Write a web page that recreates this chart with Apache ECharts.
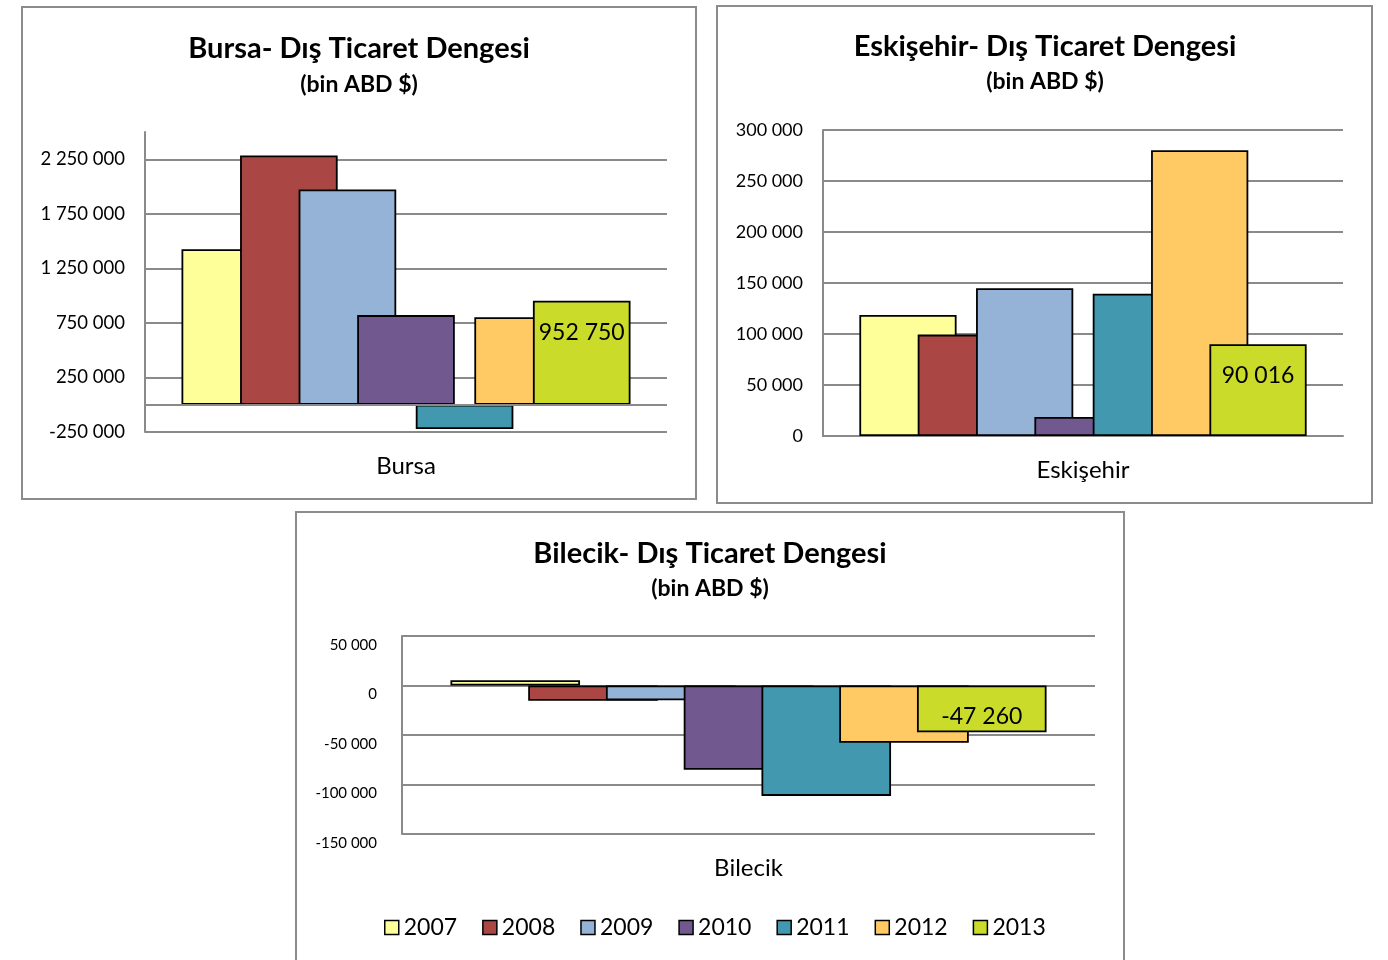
<!DOCTYPE html>
<html>
<head>
<meta charset="utf-8">
<script src="https://cdn.jsdelivr.net/npm/echarts@6/dist/echarts.min.js"></script>
<style>
html,body{margin:0;padding:0;background:#fff;}
#chart{width:1388px;height:960px;}
</style>
</head>
<body>
<div id="chart"></div>
<script>
// ---- data ----
const years = ['2007', '2008', '2009', '2010', '2011', '2012', '2013'];
const bursaCategory = ['Bursa'];
const eskisehirCategory = ['Eskişehir'];
const bilecikCategory = ['Bilecik'];
const bursaValues = [1426000, 2285000, 1973000, 821500, -223000, 803000, 952750];
const eskisehirValues = [118600, 99400, 144800, 18600, 139500, 280100, 90016];
const bilecikValues = [5400, -15500, -15000, -85200, -111500, -57800, -47260];
const bursaAxis = [-250000, 2500000, 500000];      // min, max, interval
const eskisehirAxis = [0, 300000, 50000];
const bilecikAxis = [-150000, 50000, 50000];
const titles = ['Bursa- Dış Ticaret Dengesi', 'Eskişehir- Dış Ticaret Dengesi', 'Bilecik- Dış Ticaret Dengesi'];
const subTitle = '(bin ABD $)';
const labeledYear = '2013';

// ---- styling ----
const colors = ['#FFFF99', '#AA4643', '#95B3D7', '#71588F', '#4198AF', '#FFCA64', '#CADB2A'];
const FONT = 'Lato';
const GRID_COLOR = '#8a8a8a';

function fmt(v) {
  const s = String(Math.abs(Math.round(v))).replace(/\B(?=(\d{3})+(?!\d))/g, ' ');
  return (v < 0 ? '-' : '') + s;
}

const chart = echarts.init(document.getElementById('chart'), null, {renderer: 'canvas'});

const grids = [
  {left: 145, top: 132, width: 522, height: 300},
  {left: 823, top: 130, width: 520, height: 306},
  {left: 402, top: 636, width: 693, height: 198}
];
const cats = [bursaCategory, eskisehirCategory, bilecikCategory];
const vals = [bursaValues, eskisehirValues, bilecikValues];
const axes = [bursaAxis, eskisehirAxis, bilecikAxis];
const yFont = [18.5, 18, 15];
const yMargin = [20, 20, 25];

const xAxis = cats.map((c, i) => ({
  type: 'category', gridIndex: i, data: c,
  axisLine: {show: i === 1, onZero: false, lineStyle: {color: GRID_COLOR, width: 2}},
  axisTick: {show: false},
  axisLabel: {fontFamily: FONT, fontSize: 24, color: '#000', margin: 22}
}));

const yAxis = axes.map((a, i) => {
  const lbl = {
    fontFamily: FONT, fontSize: yFont[i], color: '#000', margin: yMargin[i],
    showMaxLabel: i !== 0, showMinLabel: true,
    formatter: v => fmt(v)
  };
  if (i === 2) { lbl.verticalAlign = 'top'; lbl.lineHeight = 18; }
  return {
    type: 'value', gridIndex: i, min: a[0], max: a[1], interval: a[2],
    axisLine: {show: true, lineStyle: {color: GRID_COLOR, width: 2}},
    axisTick: {show: false},
    splitLine: {show: true, showMinLine: true, showMaxLine: i !== 0, lineStyle: {color: GRID_COLOR, width: 2}},
    axisLabel: lbl
  };
});

const series = [];
vals.forEach((arr, gi) => {
  years.forEach((y, k) => {
    const s = {
      name: y, type: 'bar', xAxisIndex: gi, yAxisIndex: gi,
      data: [arr[k]],
      barWidth: '18.7%', barGap: '-40%',
      itemStyle: {color: colors[k], borderColor: '#000', borderWidth: 1.8},
      emphasis: {disabled: true},
      animation: false,
      label: {
        show: y === labeledYear, position: 'insideTop', distance: 20,
        fontFamily: FONT, fontSize: 23, color: '#000',
        formatter: p => fmt(p.value)
      }
    };
    if (gi === 0 && k === 0) {
      s.markLine = {
        silent: true, symbol: 'none', label: {show: false},
        lineStyle: {color: GRID_COLOR, width: 2, type: 'solid'},
        data: [{yAxis: 0}], animation: false
      };
    }
    series.push(s);
  });
});

const titleCenters = [[359, 49, 85], [1045, 47, 82], [710, 554, 589]];
const titleOpts = [];
titleCenters.forEach((c, i) => {
  titleOpts.push({text: titles[i], left: c[0] - 5, top: c[1] - 5, textAlign: 'center', textVerticalAlign: 'middle',
    textStyle: {fontFamily: FONT, fontSize: 29, fontWeight: 'bold', color: '#000'}});
  titleOpts.push({text: subTitle, left: c[0] - 5, top: c[2] - 5, textAlign: 'center', textVerticalAlign: 'middle',
    textStyle: {fontFamily: FONT, fontSize: 23, fontWeight: 'bold', color: '#000'}});
});

const boxStyle = {fill: 'none', stroke: '#8c8c8c', lineWidth: 2};

chart.setOption({
  animation: false,
  backgroundColor: '#fff',
  title: titleOpts,
  grid: grids,
  xAxis: xAxis,
  yAxis: yAxis,
  legend: {
    data: years, left: 379, top: 911, icon: 'rect',
    itemWidth: 14, itemHeight: 14, itemGap: 25,
    textStyle: {fontFamily: FONT, fontSize: 23, color: '#000'},
    itemStyle: {borderColor: '#000', borderWidth: 1.5}
  },
  graphic: [
    {type: 'rect', shape: {x: 22, y: 7, width: 674, height: 492}, style: boxStyle, z: -1},
    {type: 'rect', shape: {x: 717, y: 6, width: 655, height: 497}, style: boxStyle, z: -1},
    {type: 'rect', shape: {x: 296, y: 512, width: 828, height: 460}, style: boxStyle, z: -1}
  ],
  series: series
});
</script>
</body>
</html>
